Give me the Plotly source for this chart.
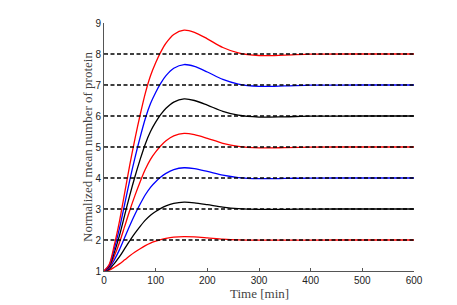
import plotly.graph_objects as go

time_min = [0, 10, 20, 30, 40, 50, 60, 70, 80, 90, 100, 110, 120, 135, 155, 175, 200, 230, 260, 300, 350, 400, 500, 600]

curve_2 = [1, 1.03, 1.12, 1.23, 1.36, 1.49, 1.61, 1.72, 1.82, 1.90, 1.96, 2.01, 2.05, 2.09, 2.11, 2.10, 2.07, 2.03, 2.005, 1.993, 1.995, 1.999, 2.0, 2.0]
curve_3 = [1, 1.06, 1.24, 1.46, 1.72, 1.98, 2.22, 2.44, 2.64, 2.80, 2.92, 3.02, 3.10, 3.18, 3.22, 3.20, 3.14, 3.06, 3.01, 2.986, 2.99, 2.998, 3.0, 3.0]
curve_4 = [1, 1.09, 1.36, 1.69, 2.08, 2.47, 2.83, 3.16, 3.46, 3.70, 3.88, 4.03, 4.15, 4.27, 4.33, 4.30, 4.21, 4.09, 4.015, 3.979, 3.985, 3.997, 4.0, 4.0]
curve_5 = [1, 1.12, 1.48, 1.92, 2.44, 2.96, 3.44, 3.88, 4.28, 4.60, 4.84, 5.04, 5.20, 5.36, 5.44, 5.40, 5.28, 5.12, 5.02, 4.972, 4.98, 4.996, 5.0, 5.0]
curve_6 = [1, 1.15, 1.60, 2.15, 2.80, 3.45, 4.05, 4.60, 5.10, 5.50, 5.80, 6.05, 6.25, 6.45, 6.55, 6.50, 6.35, 6.15, 6.025, 5.965, 5.975, 5.995, 6.0, 6.0]
curve_7 = [1, 1.18, 1.72, 2.38, 3.16, 3.94, 4.66, 5.32, 5.92, 6.40, 6.76, 7.06, 7.30, 7.54, 7.66, 7.60, 7.42, 7.18, 7.03, 6.958, 6.97, 6.994, 7.0, 7.0]
curve_8 = [1, 1.21, 1.84, 2.61, 3.52, 4.43, 5.27, 6.04, 6.74, 7.30, 7.72, 8.07, 8.35, 8.63, 8.77, 8.70, 8.49, 8.21, 8.035, 7.951, 7.965, 7.993, 8.0, 8.0]

targets = [2, 3, 4, 5, 6, 7, 8]
curves = [curve_2, curve_3, curve_4, curve_5, curve_6, curve_7, curve_8]
colors = ["#ff0000", "#000000", "#0000ff", "#ff0000", "#000000", "#0000ff", "#ff0000"]

x_ticks = [0, 100, 200, 300, 400, 500, 600]
y_ticks = [1, 2, 3, 4, 5, 6, 7, 8, 9]

fig = go.Figure()
for c, col in zip(curves, colors):
    fig.add_trace(go.Scatter(x=time_min, y=c, mode="lines",
                             line=dict(color=col, width=1.3, shape="spline", smoothing=0.8),
                             showlegend=False, hoverinfo="skip"))
for tg in targets:
    fig.add_trace(go.Scatter(x=[0, 600], y=[tg, tg], mode="lines",
                             line=dict(color="#000000", width=1.3, dash="4px,2.5px"),
                             showlegend=False, hoverinfo="skip"))

axis_common = dict(showgrid=False, zeroline=False, showline=True, linecolor="#555555",
                   linewidth=1, ticks="inside", ticklen=3, tickcolor="#555555",
                   tickfont=dict(family="Liberation Sans, Arial, sans-serif", size=10, color="#222222"),
                   mirror=False, automargin=False)

serif = dict(family="Liberation Serif, Times New Roman, serif", size=13, color="#444444")

# page body has an 8px margin, so the figure is drawn 8px right and down
fig.update_layout(
    width=449, height=297,
    margin=dict(l=96, r=43, t=15, b=34),
    paper_bgcolor="white", plot_bgcolor="white",
    xaxis=dict(range=[0, 600], tickvals=x_ticks, **axis_common),
    yaxis=dict(range=[1, 9], tickvals=y_ticks, **axis_common),
    annotations=[
        dict(text="Time [min]", xref="paper", yref="paper", x=0.5, y=0,
             xanchor="center", yanchor="middle", yshift=-22, showarrow=False, font=serif),
        dict(text="Normalized mean number of protein", xref="paper", yref="paper", x=0, y=0.5,
             xanchor="center", yanchor="middle", xshift=-17, textangle=-90, showarrow=False, font=serif),
    ],
)

fig.write_html("out.html")
